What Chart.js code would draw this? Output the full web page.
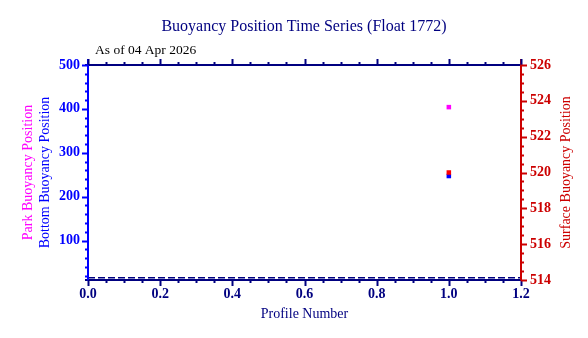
<!DOCTYPE html>
<html>
<head>
<meta charset="utf-8">
<title>Buoyancy Position Time Series</title>
<script src="https://cdn.jsdelivr.net/npm/chart.js@4/dist/chart.umd.min.js"></script>
<style>
  body { margin: 0; background: #fff; }
</style>
</head>
<body>
<canvas id="myChart" width="588" height="338"></canvas>
<script>
// profile data for float 1772
var profiles   = [1];
var parkPos    = [404];
var bottomPos  = [247];
var surfacePos = [520];

// dashed reference level across the record
var refX     = [0, 1.2];
var refLevel = [15, 15];

// axis ticks
var xTicks     = [0, 0.2, 0.4, 0.6, 0.8, 1.0, 1.2];
var leftTicks  = [100, 200, 300, 400, 500];
var rightTicks = [514, 516, 518, 520, 522, 524, 526];

var NAVY = '#000080', BLUE = '#0000ff', RED = '#cc0000', MAGENTA = '#ff00ff';
var SERIF = '"Liberation Serif", "Times New Roman", serif';

function pts(xs, ys) {
    return xs.map(function(x, i) { return { x: x, y: ys[i] }; });
}
function fixTicks(list) {
    return function(scale) {
        scale.ticks = list.map(function(v) { return { value: v }; });
    };
}

// axis frame, major/minor tick marks and all the titles
var framePlugin = {
    id: 'frame',
    afterDraw: function(chart) {
        var ctx = chart.ctx, a = chart.chartArea;
        var sx = chart.scales.x, sl = chart.scales.y, sr = chart.scales.y2;
        ctx.save();
        ctx.lineWidth = 2;

        function seg(x1, y1, x2, y2, color) {
            ctx.strokeStyle = color;
            ctx.beginPath();
            ctx.moveTo(x1, y1);
            ctx.lineTo(x2, y2);
            ctx.stroke();
        }

        // frame
        seg(a.left - 3, a.top, a.right, a.top, NAVY);
        seg(a.left - 3, a.bottom, a.right, a.bottom, NAVY);
        seg(a.left, a.top - 6, a.left, a.bottom + 1, BLUE);
        seg(a.right, a.top - 6, a.right, a.bottom + 1, RED);

        // x ticks: bottom and top
        var i, v, p, len;
        for (i = 0; i <= 24; i++) {
            v = i * 0.05;
            p = Math.round(sx.getPixelForValue(v)) + 0.5;
            len = (i % 4 === 0) ? 6 : 3;
            seg(p, a.bottom, p, a.bottom + len, NAVY);
            seg(p, a.top, p, a.top - len, NAVY);
        }
        // left ticks
        for (v = 20; v <= 500; v += 20) {
            p = Math.round(sl.getPixelForValue(v)) + 0.5;
            len = (v % 100 === 0) ? 6 : 3;
            seg(a.left, p, a.left - len, p, BLUE);
        }
        // right ticks
        for (i = 0; i <= 24; i++) {
            v = 514 + i * 0.5;
            p = Math.round(sr.getPixelForValue(v)) + 0.5;
            len = (i % 4 === 0) ? 6 : 3;
            seg(a.right, p, a.right + len, p, RED);
        }

        // titles
        ctx.textBaseline = 'middle';
        ctx.textAlign = 'center';
        ctx.fillStyle = NAVY;
        ctx.font = '16px ' + SERIF;
        ctx.fillText('Buoyancy Position Time Series (Float 1772)', 304, 27);

        ctx.font = '14px ' + SERIF;
        ctx.fillText('Profile Number', (a.left + a.right) / 2, 314);

        ctx.textAlign = 'left';
        ctx.fillStyle = '#000';
        ctx.font = '13.5px ' + SERIF;
        ctx.fillText('As of 04 Apr 2026', 95, 50);

        ctx.font = '14px ' + SERIF;
        var midY = (a.top + a.bottom) / 2;
        ctx.textAlign = 'center';
        ctx.save();
        ctx.translate(28, midY);
        ctx.rotate(-Math.PI / 2);
        ctx.fillStyle = MAGENTA;
        ctx.fillText('Park Buoyancy Position', 0, 0);
        ctx.restore();

        ctx.save();
        ctx.translate(45, midY);
        ctx.rotate(-Math.PI / 2);
        ctx.fillStyle = BLUE;
        ctx.fillText('Bottom Buoyancy Position', 0, 0);
        ctx.restore();

        ctx.save();
        ctx.translate(566, midY);
        ctx.rotate(-Math.PI / 2);
        ctx.fillStyle = RED;
        ctx.fillText('Surface Buoyancy Position', 0, 0);
        ctx.restore();

        ctx.restore();
    }
};

var ctx = document.getElementById('myChart').getContext('2d');

var myChart = new Chart(ctx, {
    type: 'scatter',
    data: {
        datasets: [{
            label: 'Reference',
            type: 'line',
            data: pts(refX, refLevel),
            yAxisID: 'y',
            borderColor: NAVY,
            borderWidth: 1.5,
            borderDash: [7, 3],
            pointRadius: 0,
            fill: false
        }, {
            label: 'Park Buoyancy Position',
            data: pts(profiles, parkPos),
            yAxisID: 'y',
            backgroundColor: MAGENTA,
            pointStyle: 'rect',
            pointRadius: 3.2,
            borderWidth: 0
        }, {
            label: 'Surface Buoyancy Position',
            data: pts(profiles, surfacePos),
            yAxisID: 'y2',
            backgroundColor: '#ff0000',
            pointStyle: 'rect',
            pointRadius: 3.2,
            borderWidth: 0
        }, {
            label: 'Bottom Buoyancy Position',
            data: pts(profiles, bottomPos),
            yAxisID: 'y',
            backgroundColor: BLUE,
            pointStyle: 'rect',
            pointRadius: 3.2,
            borderWidth: 0
        }]
    },
    options: {
        responsive: false,
        animation: false,
        devicePixelRatio: 1,
        layout: { padding: { top: 65, left: 0, right: 0, bottom: 0 } },
        plugins: {
            legend: { display: false },
            tooltip: { enabled: false },
            title: { display: false }
        },
        scales: {
            x: {
                type: 'linear',
                position: 'bottom',
                min: 0,
                max: 1.2,
                afterBuildTicks: fixTicks(xTicks),
                afterFit: function(s) { s.height = 58; },
                grid: { display: false, drawTicks: false },
                border: { display: false },
                ticks: {
                    color: NAVY,
                    padding: 6,
                    maxRotation: 0,
                    font: { family: SERIF, size: 14, weight: 'bold' },
                    callback: function(v) { return v.toFixed(1); }
                }
            },
            y: {
                type: 'linear',
                position: 'left',
                min: 10,
                max: 500,
                afterBuildTicks: fixTicks(leftTicks),
                afterFit: function(s) { s.width = 88; },
                grid: { display: false, drawTicks: false },
                border: { display: false },
                ticks: {
                    color: BLUE,
                    padding: 8,
                    font: { family: SERIF, size: 14, weight: 'bold' }
                }
            },
            y2: {
                type: 'linear',
                position: 'right',
                min: 514,
                max: 526,
                afterBuildTicks: fixTicks(rightTicks),
                afterFit: function(s) { s.width = 67; },
                grid: { display: false, drawTicks: false },
                border: { display: false },
                ticks: {
                    color: RED,
                    padding: 9,
                    font: { family: SERIF, size: 14, weight: 'bold' }
                }
            }
        }
    },
    plugins: [framePlugin]
});
</script>
</body>
</html>
